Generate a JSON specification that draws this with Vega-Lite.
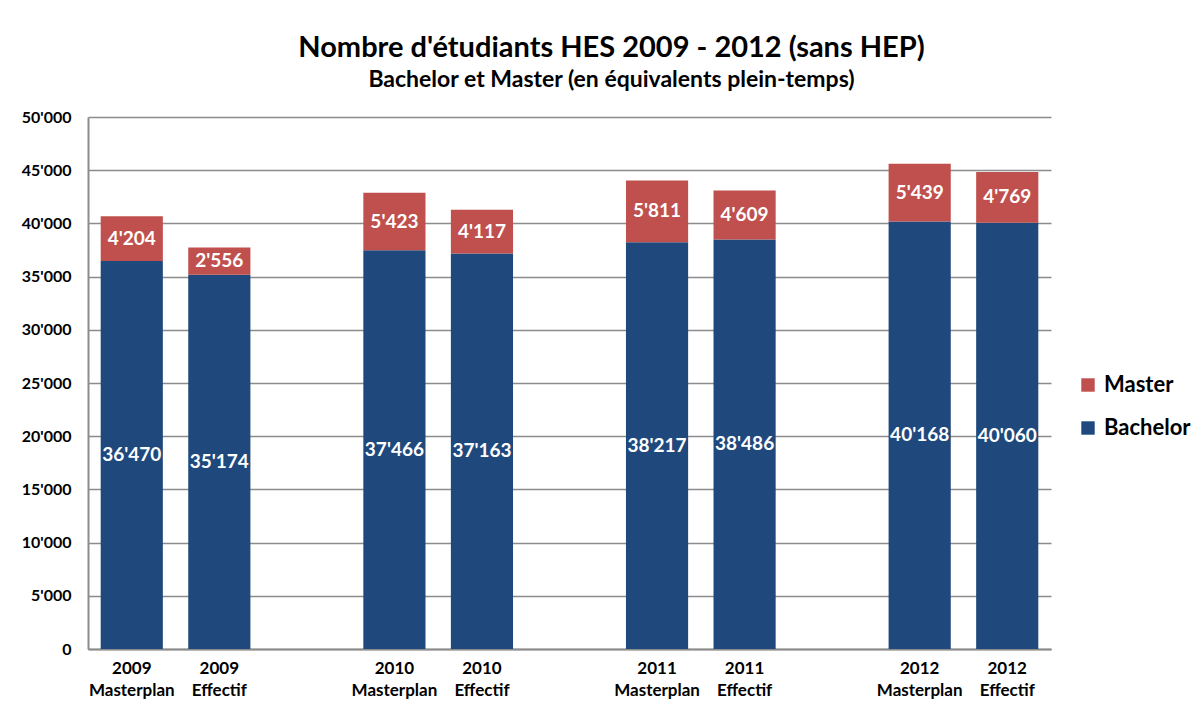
{
  "$schema": "https://vega.github.io/schema/vega-lite/v6.json",
  "autosize": {"type": "none"},
  "width": 963,
  "height": 532,
  "padding": {"left": 88, "top": 117, "right": 148, "bottom": 58},
  "background": "white",
  "config": {
    "font": "Lato",
    "locale": {"number": {"decimal": ".", "thousands": "'", "grouping": [3], "currency": ["", ""]}},
    "view": {"stroke": null},
    "axis": {"labelFont": "Lato", "labelFontWeight": "bold", "labelColor": "black", "domainColor": "#8c8c8c", "domainWidth": 2, "ticks": false, "title": null}
  },
  "title": {
    "text": "Nombre d'étudiants HES 2009 - 2012 (sans HEP)",
    "subtitle": "Bachelor et Master (en équivalents plein-temps)",
    "anchor": "middle",
    "frame": "group",
    "dx": 42,
    "offset": 17,
    "fontSize": 29,
    "fontWeight": "bold",
    "color": "black",
    "subtitleFontSize": 23,
    "subtitleFontWeight": "bold",
    "subtitleColor": "black",
    "subtitlePadding": 6
  },
  "data": {
    "values": [
      {"cat": "2009 Masterplan", "series": "Bachelor", "value": 36470},
      {"cat": "2009 Masterplan", "series": "Master", "value": 4204},
      {"cat": "2009 Effectif", "series": "Bachelor", "value": 35174},
      {"cat": "2009 Effectif", "series": "Master", "value": 2556},
      {"cat": "2010 Masterplan", "series": "Bachelor", "value": 37466},
      {"cat": "2010 Masterplan", "series": "Master", "value": 5423},
      {"cat": "2010 Effectif", "series": "Bachelor", "value": 37163},
      {"cat": "2010 Effectif", "series": "Master", "value": 4117},
      {"cat": "2011 Masterplan", "series": "Bachelor", "value": 38217},
      {"cat": "2011 Masterplan", "series": "Master", "value": 5811},
      {"cat": "2011 Effectif", "series": "Bachelor", "value": 38486},
      {"cat": "2011 Effectif", "series": "Master", "value": 4609},
      {"cat": "2012 Masterplan", "series": "Bachelor", "value": 40168},
      {"cat": "2012 Masterplan", "series": "Master", "value": 5439},
      {"cat": "2012 Effectif", "series": "Bachelor", "value": 40060},
      {"cat": "2012 Effectif", "series": "Master", "value": 4769}
    ]
  },
  "encoding": {
    "x": {
      "field": "cat",
      "type": "nominal",
      "scale": {
        "domain": ["2009 Masterplan", "2009 Effectif", "_a", "2010 Masterplan", "2010 Effectif", "_b", "2011 Masterplan", "2011 Effectif", "_c", "2012 Masterplan", "2012 Effectif"],
        "paddingInner": 0.29,
        "paddingOuter": 0.145
      },
      "axis": {
        "labelAngle": 0,
        "labelFontSize": 17,
        "labelPadding": 11,
        "labelBaseline": "top",
        "labelLineHeight": 22,
        "labelExpr": "indexof(datum.value, '_') == 0 ? '' : split(datum.value, ' ')"
      }
    }
  },
  "layer": [
    {
      "mark": {"type": "bar"},
      "encoding": {
        "y": {
          "field": "value",
          "type": "quantitative",
          "stack": "zero",
          "scale": {"domain": [0, 50000], "nice": false},
          "axis": {
            "values": [0, 5000, 10000, 15000, 20000, 25000, 30000, 35000, 40000, 45000, 50000],
            "format": ",.0f",
            "labelFontSize": 16,
            "labelPadding": 17,
            "grid": true,
            "gridColor": "#8c8c8c",
            "gridWidth": 1.3
          }
        },
        "color": {
          "field": "series",
          "type": "nominal",
          "scale": {"domain": ["Master", "Bachelor"], "range": ["#C0504D", "#1F497D"]},
          "legend": {
            "title": null,
            "orient": "none",
            "legendX": 989,
            "legendY": 257,
            "symbolType": "square",
            "symbolSize": 180,
            "symbolStrokeWidth": 0,
            "labelFontSize": 22,
            "labelFontWeight": "bold",
            "labelColor": "black",
            "rowPadding": 21,
            "labelOffset": 5
          }
        },
        "order": {"field": "series", "sort": "ascending"}
      }
    },
    {
      "transform": [
        {"stack": "value", "groupby": ["cat"], "sort": [{"field": "series", "order": "ascending"}], "as": ["v0", "v1"]},
        {"fold": ["v0", "v1"], "as": ["k", "pos"]}
      ],
      "mark": {"type": "text", "color": "white", "fontSize": 19, "fontWeight": "bold", "baseline": "middle"},
      "encoding": {
        "y": {"field": "pos", "type": "quantitative", "aggregate": "mean"},
        "text": {"field": "value", "type": "quantitative", "aggregate": "max", "format": ",.0f"},
        "detail": {"field": "series"}
      }
    }
  ]
}
